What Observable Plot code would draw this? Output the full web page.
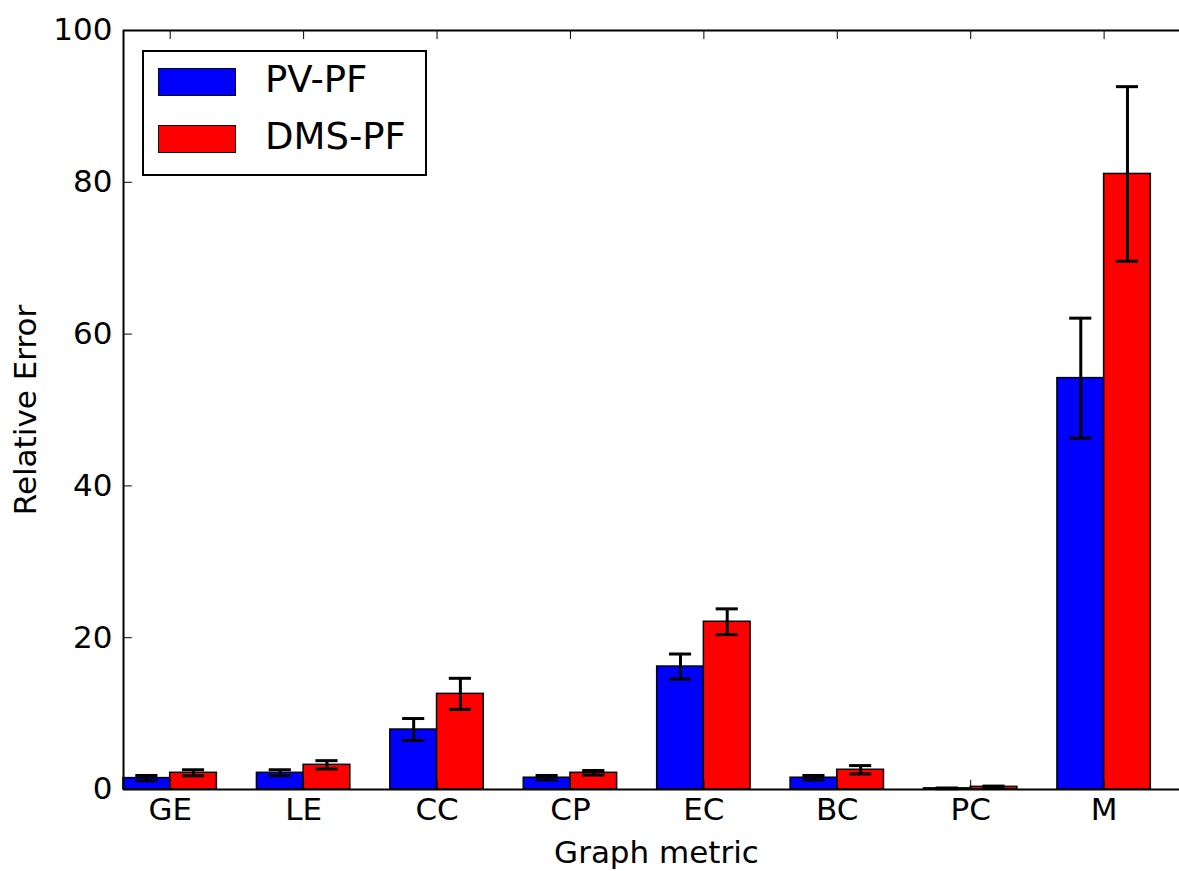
<!DOCTYPE html>
<html>
<head>
<meta charset="utf-8">
<script src="https://cdn.jsdelivr.net/npm/d3@7"></script>
<script src="https://cdn.jsdelivr.net/npm/@observablehq/plot@0.6"></script>
<style>
  html, body { margin: 0; padding: 0; background: #fff; }
  #wrap { position: relative; width: 1179px; height: 871px; font-family: "DejaVu Sans", sans-serif; }
  #legend { position: absolute; left: 142px; top: 50px; width: 281px; height: 122px; border: 2px solid #000; background: #fff; box-sizing: content-box; }
  .sw { position: absolute; left: 14px; width: 76px; height: 26px; border: 1.5px solid #000; }
  .lab { position: absolute; left: 121px; font-size: 37px; line-height: 37px; color: #000; white-space: nowrap; }
</style>
</head>
<body>
<div id="wrap"><div id="chart"></div>
<div id="legend"></div></div>
<script>
const categories = ["GE", "LE", "CC", "CP", "EC", "BC", "PC", "M"];
const seriesNames = ["PV-PF", "DMS-PF"];
const seriesColors = ["#0000ff", "#ff0000"];
const pvpf = [1.5, 2.2, 7.9, 1.55, 16.2, 1.55, 0.15, 54.2];
const pvpfErr = [0.35, 0.4, 1.45, 0.3, 1.65, 0.3, 0.05, 7.9];
const dmspf = [2.2, 3.25, 12.6, 2.2, 22.1, 2.6, 0.35, 81.1];
const dmspfErr = [0.4, 0.55, 2.05, 0.3, 1.7, 0.55, 0.1, 11.5];
const yTicks = [0, 20, 40, 60, 80, 100];

const barW = 0.35;
const capHalf = 0.083;
const values = [pvpf, dmspf];
const errs = [pvpfErr, dmspfErr];
const rows = categories.flatMap((c, i) => [0, 1].map(s => ({
  cat: c, s, x1: i + s * barW, x2: i + (s + 1) * barW, xc: i + (s + 0.5) * barW,
  v: values[s][i], e: errs[s][i], color: seriesColors[s]
})));
const catTicks = categories.map((c, i) => i + barW);

const chart = Plot.plot({
  width: 1179, height: 871,
  marginLeft: 123, marginRight: 0, marginTop: 30, marginBottom: 82,
  style: { fontFamily: "DejaVu Sans, sans-serif", fontSize: "31px", color: "#000", background: "#fff" },
  x: { type: "linear", domain: [0, 7.915], axis: null },
  y: { domain: [0, 100], axis: null },
  marks: [
    Plot.rectY(rows, { x1: "x1", x2: "x2", y1: 0, y2: "v", fill: "color", stroke: "#000", strokeWidth: 1.5 }),
    Plot.ruleX(rows, { x: "xc", y1: d => d.v - d.e, y2: d => d.v + d.e, stroke: "#000", strokeWidth: 3 }),
    Plot.ruleY(rows, { y: d => d.v - d.e, x1: d => d.xc - capHalf, x2: d => d.xc + capHalf, stroke: "#000", strokeWidth: 3 }),
    Plot.ruleY(rows, { y: d => d.v + d.e, x1: d => d.xc - capHalf, x2: d => d.xc + capHalf, stroke: "#000", strokeWidth: 3 }),
    // frame
    Plot.ruleX([0], { stroke: "#000", strokeWidth: 2 }),
    Plot.ruleY([0, 100], { stroke: "#000", strokeWidth: 2 }),
    // inward ticks
    Plot.ruleY(yTicks, { y: d => d, x1: 0, x2: 0.066, stroke: "#000", strokeWidth: 1 }),
    Plot.ruleX(catTicks, { x: d => d, y1: 100, y2: 98.8, stroke: "#000", strokeWidth: 1 }),
    Plot.ruleX(catTicks, { x: d => d, y1: 0, y2: 1.2, stroke: "#000", strokeWidth: 1 }),
    Plot.axisY({ ticks: yTicks, tickSize: 0, tickPadding: 11, fontSize: 31, label: null }),
    Plot.axisX({ ticks: catTicks, tickSize: 0, tickPadding: 8, fontSize: 31, label: null, tickFormat: v => categories[Math.round(v - barW)] }),
    Plot.text(["Graph metric"], { frameAnchor: "bottom", dy: 73, dx: 5, text: d => d, fontSize: 31 }),
    Plot.text(["Relative Error"], { frameAnchor: "left", textAnchor: "middle", dx: -97, rotate: -90, text: d => d, fontSize: 31 })
  ]
});
document.getElementById("chart").appendChild(chart);

const legend = document.getElementById("legend");
const tops = [16, 73];
seriesNames.forEach((n, i) => {
  const sw = document.createElement("div");
  sw.className = "sw";
  sw.style.top = tops[i] + "px";
  sw.style.background = seriesColors[i];
  legend.appendChild(sw);
  const lab = document.createElement("div");
  lab.className = "lab";
  lab.style.top = (tops[i] - 7) + "px";
  lab.textContent = n;
  legend.appendChild(lab);
});
</script>
</body>
</html>
